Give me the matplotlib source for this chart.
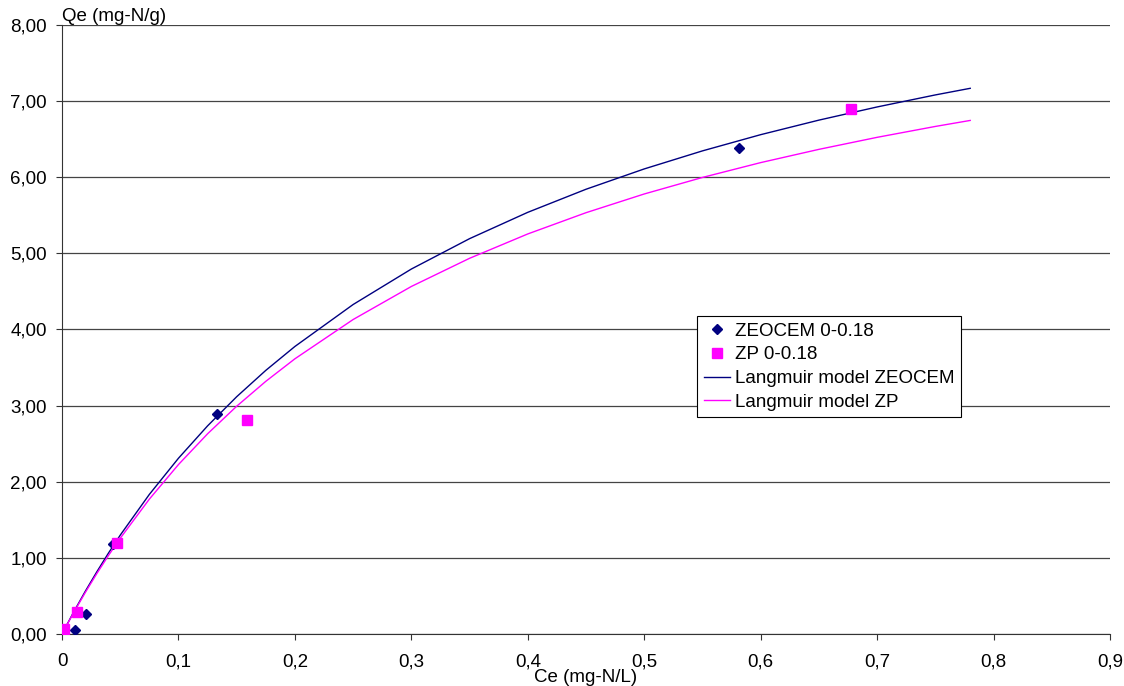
import matplotlib
matplotlib.use("Agg")
import matplotlib.pyplot as plt
from matplotlib.ticker import FuncFormatter

plt.rcParams["font.family"] = ["Liberation Sans", "DejaVu Sans"]

# measured points
zeocem_ce = [0.0114, 0.0206, 0.044, 0.133, 0.581]
zeocem_qe = [0.05, 0.26, 1.18, 2.89, 6.39]
zp_ce = [0.002, 0.013, 0.0475, 0.159, 0.678]
zp_qe = [0.07, 0.29, 1.20, 2.81, 6.90]

# model curves
model_ce = [0.003, 0.01, 0.02, 0.03, 0.04, 0.05, 0.075, 0.1, 0.125, 0.15,
            0.175, 0.2, 0.25, 0.3, 0.35, 0.4, 0.45, 0.5, 0.55, 0.6, 0.65,
            0.7, 0.75, 0.78]
model_zeocem = [0.088, 0.289, 0.562, 0.820, 1.066, 1.299, 1.834, 2.309, 2.734,
                3.117, 3.463, 3.777, 4.328, 4.794, 5.193, 5.539, 5.842, 6.109,
                6.346, 6.559, 6.750, 6.923, 7.081, 7.168]
model_zp = [0.086, 0.281, 0.546, 0.797, 1.034, 1.258, 1.772, 2.226, 2.630,
            2.992, 3.319, 3.615, 4.131, 4.565, 4.935, 5.255, 5.534, 5.780,
            5.997, 6.192, 6.366, 6.524, 6.667, 6.746]

NAVY = "#000080"
MAGENTA = "#FF00FF"

fig = plt.figure(figsize=(11.24, 6.86), dpi=100)
ax = fig.add_axes([0.0552, 0.0758, 0.9323, 0.8878])

ax.plot(zeocem_ce, zeocem_qe, "D", color=NAVY, markersize=5.5, ls="none",
        label="ZEOCEM 0-0.18", zorder=4)
ax.plot(zp_ce, zp_qe, "s", color=MAGENTA, markersize=7, ls="none",
        label="ZP 0-0.18", zorder=4)
ax.plot(model_ce, model_zeocem, color=NAVY, lw=1, label="Langmuir model ZEOCEM")
ax.plot(model_ce, model_zp, color=MAGENTA, lw=1, label="Langmuir model ZP")

ax.set_xlim(0, 0.9)
ax.set_ylim(0, 8)
ax.set_xticks([i / 10 for i in range(10)])
ax.set_yticks(range(9))
ax.xaxis.set_major_formatter(FuncFormatter(
    lambda v, p: "0" if v == 0 else f"{v:.1f}".replace(".", ",")))
ax.yaxis.set_major_formatter(FuncFormatter(
    lambda v, p: f"{v:.2f}".replace(".", ",")))
ax.tick_params(labelsize=13.5, length=4, width=0.8, color="#333333")
ax.tick_params(axis="x", pad=10)
ax.tick_params(axis="y", pad=7)
ax.grid(axis="y", color="#444444", lw=0.9)
ax.set_axisbelow(True)
for s in ("top", "right"):
    ax.spines[s].set_visible(False)
for s in ("left", "bottom"):
    ax.spines[s].set_color("#333333")

ax.text(0.0, 1.0, "Qe (mg-N/g)", transform=ax.transAxes, fontsize=13.5,
        ha="left", va="bottom")
ax.text(0.5, -0.071, "Ce (mg-N/L)", transform=ax.transAxes, fontsize=13.5,
        ha="center", va="center")

leg = ax.legend(loc="upper left", bbox_to_anchor=(0.606, 0.522),
                fontsize=13.5, frameon=True, fancybox=False,
                edgecolor="black", handlelength=1.4,
                handletextpad=0.25, borderpad=0.35,
                labelspacing=0.35, borderaxespad=0)
leg.get_frame().set_linewidth(0.8)
leg.get_frame().set_alpha(1)

fig.savefig("out.png", dpi=100)
